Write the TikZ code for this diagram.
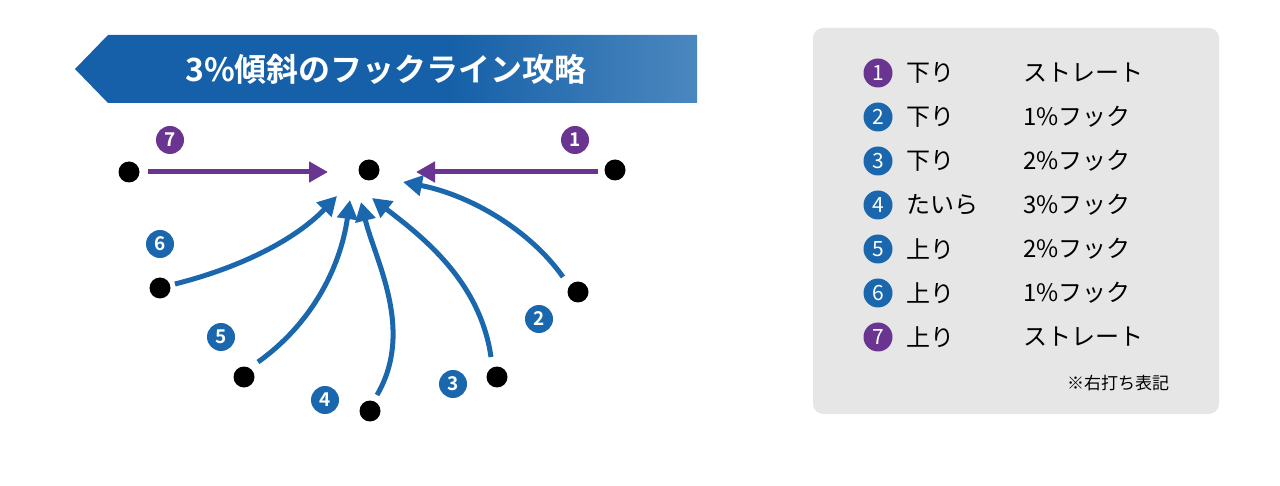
\documentclass[tikz,border=0pt]{standalone}
\usepackage{fontspec}
\setmainfont{Noto Sans CJK JP}
\newfontfamily\jpb{Noto Sans CJK JP Bold}
\usetikzlibrary{arrows.meta}
\definecolor{pur}{HTML}{6A3590}
\definecolor{blu}{HTML}{1A67AE}
\definecolor{bandark}{HTML}{1560A8}
\definecolor{banlight}{HTML}{8FB8DC}
\definecolor{boxg}{HTML}{E6E6E6}
\pgfdeclarehorizontalshading{banshade}{100bp}{color(0bp)=(bandark); color(55bp)=(bandark); color(100bp)=(banlight)}
\tikzset{
 dot/.style={circle,fill=black,inner sep=0pt,minimum size=21pt},
 num/.style={circle,fill=#1,text=white,inner sep=0pt,minimum size=28pt,font=\jpb\fontsize{19}{19}\selectfont},
 lnum/.style={circle,fill=#1,text=white,inner sep=0pt,minimum size=29pt,font=\fontsize{21}{21}\selectfont},
 arr/.style={line width=5pt,draw=#1,-{Triangle[length=19pt,width=20pt]}},
 ltxt/.style={anchor=west,font=\fontsize{24}{24}\selectfont,inner sep=0pt},
}
\begin{document}
\begin{tikzpicture}[x=1pt,y=-1pt]
\useasboundingbox (0,0) rectangle (1280,486);
% banner
\shade[shading=banshade]
 (75,69) -- (108,35) -- (697,35) -- (697,103) -- (108,103) -- cycle;
\node[text=white,font=\jpb\fontsize{32}{32}\selectfont] (title) at (386,69) {3\%傾斜のフックライン攻略};
% dots
\node[dot] (c) at (369,170) {};
\node[dot] (d7) at (129,172) {};
\node[dot] (d1) at (615,170) {};
\node[dot] (d6) at (160,288) {};
\node[dot] (d5) at (244,377) {};
\node[dot] (d4) at (370,411) {};
\node[dot] (d3) at (497,377) {};
\node[dot] (d2) at (578,292) {};
\coordinate (s7) at (148,172); \coordinate (e7) at (328,172);
\coordinate (s1) at (598,172); \coordinate (e1) at (416,172);
\coordinate (s6) at (175,284); \coordinate (e6) at (337,196);
\coordinate (s5) at (258,362); \coordinate (e5) at (350,200);
\coordinate (s4) at (377,395); \coordinate (e4) at (361,202);
\coordinate (s3) at (491,357); \coordinate (e3) at (372,198);
\coordinate (s2) at (563,277); \coordinate (e2) at (403,182);
\draw[arr=pur] (s7) -- (e7);
\draw[arr=pur] (s1) -- (e1);
\draw[arr=blu] (s6) .. controls (250,265) and (300,235) .. (e6);
\draw[arr=blu] (s5) .. controls (310,325) and (340,270) .. (e5);
\draw[arr=blu] (s4) .. controls (415,330) and (375,260) .. (e4);
\draw[arr=blu] (s3) .. controls (480,280) and (420,235) .. (e3);
\draw[arr=blu] (s2) .. controls (530,230) and (470,195) .. (e2);
% labels
\node[num=pur] (n7) at (170,140) {7};
\node[num=pur] (n1) at (575,140) {1};
\node[num=blu] (n6) at (160,244) {6};
\node[num=blu] (n5) at (221,337) {5};
\node[num=blu] (n4) at (325,400) {4};
\node[num=blu] (n3) at (453,384) {3};
\node[num=blu] (n2) at (539,319) {2};
% legend
\fill[boxg,rounded corners=10pt] (813,28) rectangle (1219,414);
\foreach \i/\c/\a/\b [count=\k] in {1/pur/下り/ストレート,2/blu/下り/1\%フック,3/blu/下り/2\%フック,4/blu/たいら/3\%フック,5/blu/上り/2\%フック,6/blu/上り/1\%フック,7/pur/上り/ストレート}{
 \pgfmathsetmacro{\yy}{73+(\k-1)*44}
 \node[lnum=\c] (l\k) at (878,\yy) {\i};
 \node[ltxt] (la\k) at (906,\yy) {\a};
 \node[ltxt] (lb\k) at (1023,\yy) {\b};
}
\node[font=\fontsize{17}{17}\selectfont] (note) at (1118,383) {※右打ち表記};
\end{tikzpicture}
\end{document}
